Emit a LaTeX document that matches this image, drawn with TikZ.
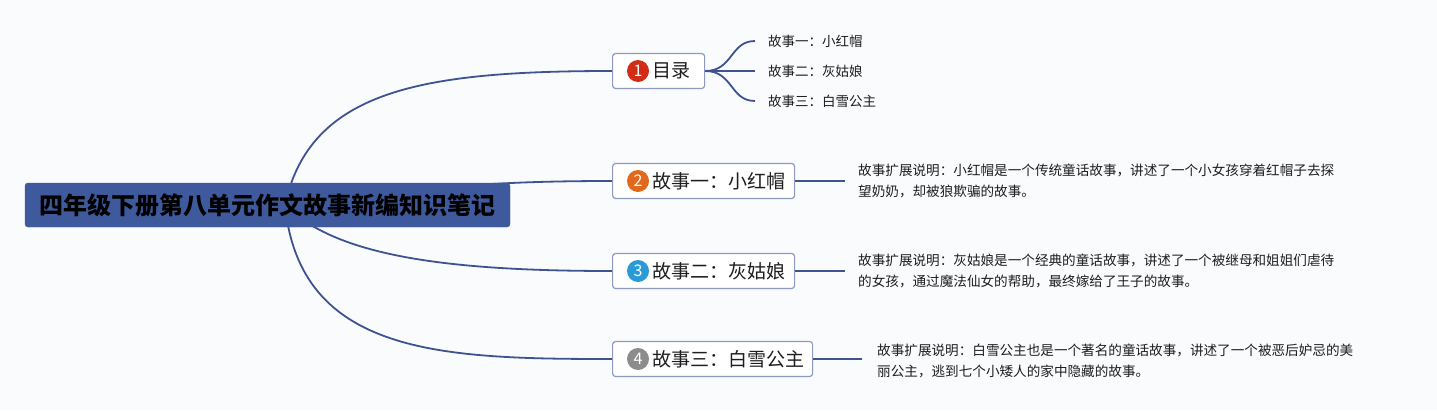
\documentclass[tikz,border=0pt]{standalone}
\usepackage{fontspec}
\setmainfont{Noto Sans CJK SC}
\usetikzlibrary{calc}
\definecolor{bgc}{HTML}{FAFBFD}
\definecolor{rootc}{HTML}{3E5A9D}
\definecolor{linec}{HTML}{3F5390}
\definecolor{boxc}{HTML}{8E9AC2}
\definecolor{txtc}{HTML}{1E1E1E}
\definecolor{c1}{HTML}{D22B16}
\definecolor{c2}{HTML}{E2691C}
\definecolor{c3}{HTML}{2A9AD9}
\definecolor{c4}{HTML}{8C8C8C}
\pgfdeclarelayer{bglayer}
\pgfdeclarelayer{background}
\pgfsetlayers{bglayer,background,main}
\tikzset{
  rootbox/.style={rectangle, rounded corners=3pt, fill=rootc, draw=rootc, text=black,
    minimum width=485pt, minimum height=44pt, inner sep=0pt,
    font=\fontsize{24}{28}\selectfont\bfseries},
  topicbox/.style={rectangle, rounded corners=3pt, fill=white, draw=boxc, line width=1.2pt,
    anchor=west, minimum height=35pt, inner xsep=6pt, inner ysep=0pt, align=left,
    text=txtc, font=\fontsize{19}{22}\selectfont},
  numc/.style={circle, minimum size=22pt, inner sep=0pt, text=white,
    font=\fontsize{16}{16}\selectfont},
  leaf/.style={anchor=west, inner sep=0pt, text=txtc, font=\fontsize{13.5}{16}\selectfont},
  desc/.style={anchor=west, inner sep=0pt, text=txtc, align=left,
    font=\fontsize{13.6}{21}\selectfont},
  conn/.style={draw=linec, line width=1.8pt},
}
\begin{document}
\begin{tikzpicture}[x=1pt,y=-1pt]
\begin{pgfonlayer}{bglayer}
\fill[bgc] (0,0) rectangle (1437,410);
\end{pgfonlayer}
\useasboundingbox (0,0) rectangle (1437,410);

% root
\node[rootbox] (root) at (267.5,205) {四年级下册第八单元作文故事新编知识笔记};
\coordinate (rc) at (285,205);

% topics
\node[topicbox, text width=80pt] (t1) at (612,71) {\hspace*{34pt}目录};
\node[topicbox, text width=170pt] (t2) at (612,181) {\hspace*{34pt}故事一：小红帽};
\node[topicbox, text width=170pt] (t3) at (612,271) {\hspace*{34pt}故事二：灰姑娘};
\node[topicbox, text width=188pt] (t4) at (612,359) {\hspace*{34pt}故事三：白雪公主};

\node[numc, fill=c1] (k1) at ($(t1.west)+(26,0)$) {1};
\node[numc, fill=c2] (k2) at ($(t2.west)+(26,0)$) {2};
\node[numc, fill=c3] (k3) at ($(t3.west)+(26,0)$) {3};
\node[numc, fill=c4] (k4) at ($(t4.west)+(26,0)$) {4};

% root connectors (behind root)
\begin{pgfonlayer}{background}
\draw[conn] (rc) .. controls +(25,-115) and +(-190,0) .. (t1.west);
\draw[conn] (rc) .. controls +(150,-20) and +(-100,0) .. (t2.west);
\draw[conn] (rc) .. controls +(50,50) and +(-170,0) .. (t3.west);
\draw[conn] (rc) .. controls +(15,150) and +(-170,0) .. (t4.west);
\end{pgfonlayer}

% leaves of t1
\node[leaf] (l1) at (768,41) {故事一：小红帽};
\node[leaf] (l2) at (768,71) {故事二：灰姑娘};
\node[leaf] (l3) at (768,101) {故事三：白雪公主};
\coordinate (e1) at (755,41);
\coordinate (e2) at (755,71);
\coordinate (e3) at (755,101);
\draw[conn] (t1.east) .. controls +(28,0) and +(-25,0) .. (e1);
\draw[conn] (t1.east) -- (e2);
\draw[conn] (t1.east) .. controls +(28,0) and +(-25,0) .. (e3);

% descriptions
\coordinate (d2) at (845,181);
\coordinate (d3) at (845,271);
\coordinate (d4) at (862,359);
\draw[conn] (t2.east) -- (d2);
\draw[conn] (t3.east) -- (d3);
\draw[conn] (t4.east) -- (d4);
\node[desc] (s2) at (858,181) {故事扩展说明：小红帽是一个传统童话故事，讲述了一个小女孩穿着红帽子去探\\望奶奶，却被狼欺骗的故事。};
\node[desc] (s3) at (858,271) {故事扩展说明：灰姑娘是一个经典的童话故事，讲述了一个被继母和姐姐们虐待\\的女孩，通过魔法仙女的帮助，最终嫁给了王子的故事。};
\node[desc] (s4) at (877,361) {故事扩展说明：白雪公主也是一个著名的童话故事，讲述了一个被恶后妒忌的美\\丽公主，逃到七个小矮人的家中隐藏的故事。};
\end{tikzpicture}
\end{document}
